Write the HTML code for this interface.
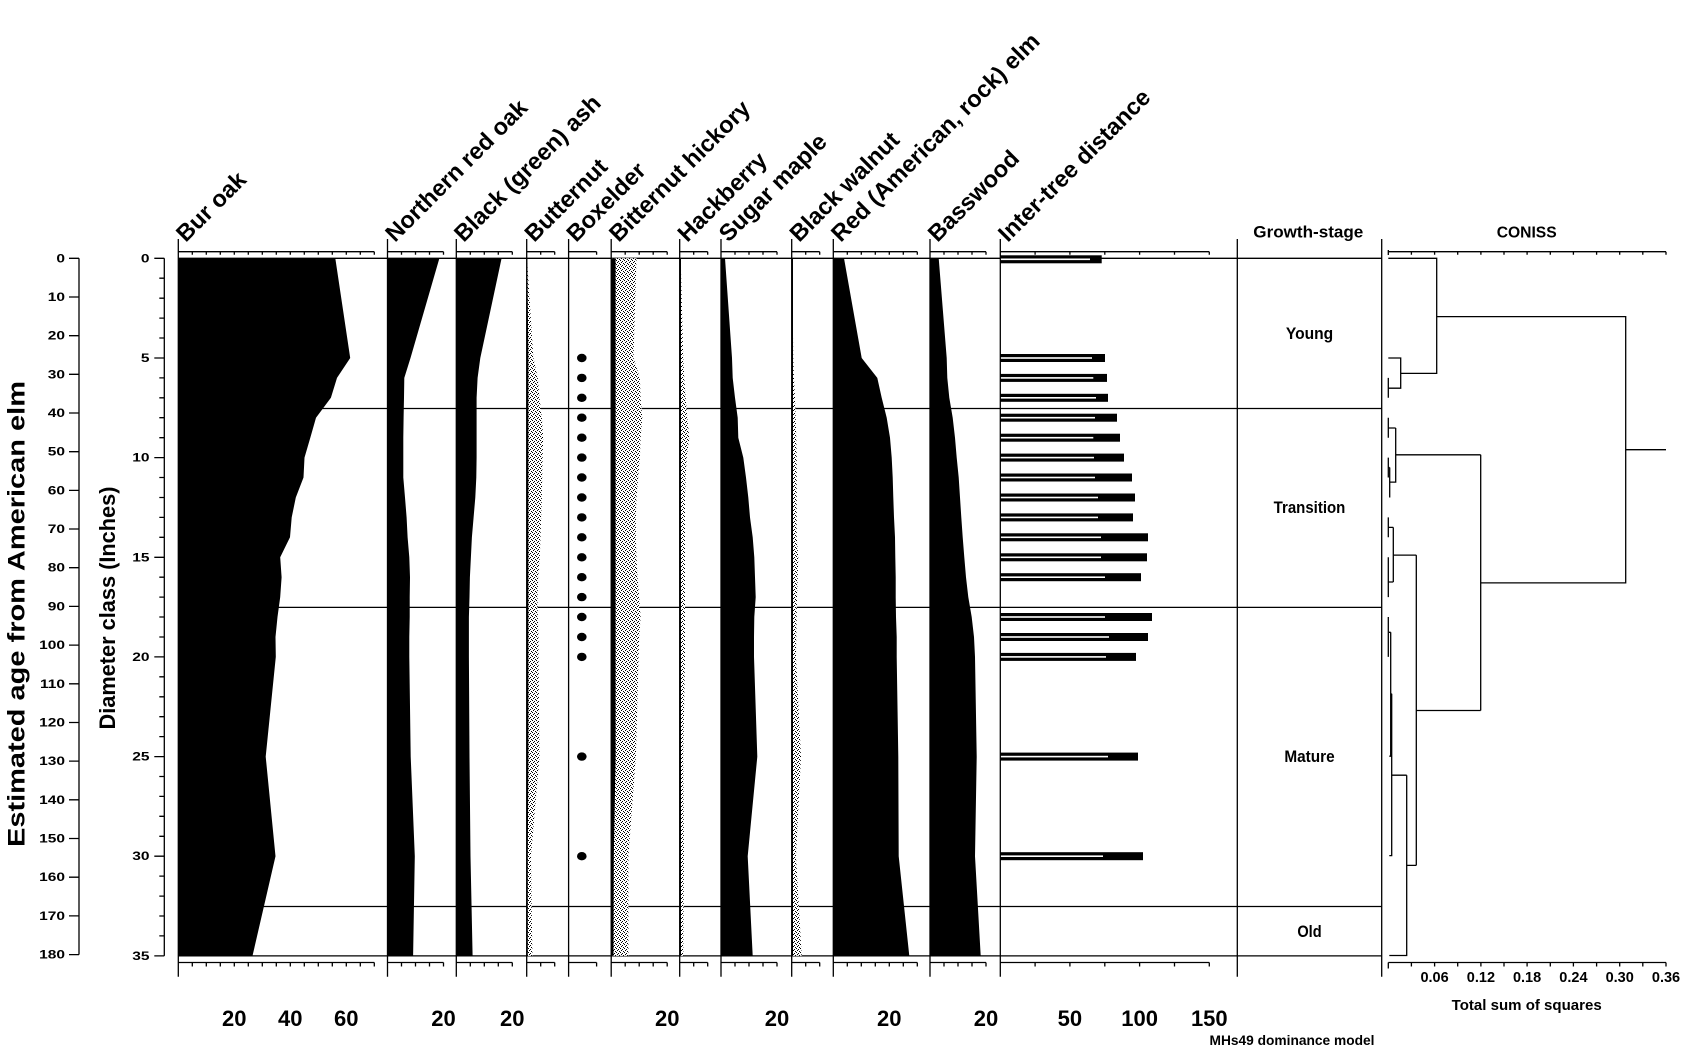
<!DOCTYPE html>
<html><head><meta charset="utf-8"><style>html,body{margin:0;padding:0;background:#fff}svg{display:block}</style></head>
<body>
<svg width="1681" height="1051" viewBox="0 0 1681 1051" xmlns="http://www.w3.org/2000/svg" font-family="'Liberation Sans', Arial, sans-serif">
<defs>
<pattern id="dots" width="4" height="4" patternUnits="userSpaceOnUse"><rect width="4" height="4" fill="#fff"/><rect x="0" y="0" width="1" height="1" fill="#000"/><rect x="2" y="1" width="1" height="1" fill="#000"/><rect x="1" y="2" width="1" height="1" fill="#000"/><rect x="3" y="3" width="1" height="1" fill="#000"/></pattern>
</defs>
<rect width="1681" height="1051" fill="#fff"/>

<g stroke="#000" stroke-width="1.3" fill="none">
<path d="M178.3 258.3H1381.7M178.3 408.5H1381.7M178.3 607.4H1381.7M178.3 906.5H1381.7M178.3 955.9H1381.7"/>
</g>

<g stroke="none">
<polygon fill="#000" points="178.3,258.3 335.3,258.3 350.2,358 337,377.9 330.9,397.8 316,417.7 310.3,437.7 304.5,457.6 303.5,477.5 295.8,497.5 291.7,517.4 290,537.3 280.2,557.3 281.6,577.2 280.2,597.1 277.5,617 275.5,637 275.8,656.9 265.7,756.6 275.5,856.2 252.5,955.9 178.3,955.9"/>
<polygon fill="#000" points="387.5,258.3 439.4,258.3 410.5,358 404.3,377.9 404,397.8 403.6,417.7 403.3,437.7 403.3,457.6 403.3,477.5 405,497.5 406.6,517.4 407.6,537.3 409.3,557.3 410,577.2 409.7,597.1 409.7,617 409.3,637 409.3,656.9 410.7,756.6 414.8,856.2 413.1,955.9 387.5,955.9"/>
<polygon fill="#000" points="456.3,258.3 501.6,258.3 480.3,358 477.6,377.9 476.6,397.8 476.6,417.7 476.6,437.7 476.6,457.6 476.3,477.5 475.3,497.5 473.6,517.4 471.9,537.3 470.9,557.3 469.9,577.2 469.5,597.1 468.9,617 468.9,637 468.9,656.9 469.5,756.6 470.5,856.2 472.6,955.9 456.3,955.9"/>
<polygon fill="url(#dots)" points="526.7,258.3 527,258.3 533.4,358 537.8,377.9 539.5,397.8 541.9,417.7 543.2,437.7 542.6,457.6 542.2,477.5 541.9,497.5 541.2,517.4 540.5,537.3 539.8,557.3 538.2,577.2 537.5,597.1 537.8,617 538.5,637 538.5,656.9 539.5,756.6 531,856.2 532.4,955.9 526.7,955.9"/>
<polygon fill="#000" points="526.7,258.3 527.3,258.3 528.4,358 528.4,756.6 527.8,856.2 527.8,955.9 526.7,955.9"/>
<polygon fill="url(#dots)" points="611.2,258.3 636.5,258.3 633.5,358 639.9,377.9 640.6,397.8 642.3,417.7 640.6,437.7 639.9,457.6 638.2,477.5 636.5,497.5 635.9,517.4 635.9,537.3 636.5,557.3 637.5,577.2 639.2,597.1 640.6,617 639.2,637 638.6,656.9 635.9,756.6 628.4,856.2 628.4,955.9 611.2,955.9"/>
<polygon fill="#000" points="611.2,258.3 615.6,258.3 615.6,756.6 613.8,856.2 613.5,955.9 611.2,955.9"/>
<polygon fill="url(#dots)" points="679.7,258.3 680.7,258.3 683.3,358 684.3,377.9 685.7,397.8 687.3,417.7 689.3,437.7 686.7,457.6 685.7,477.5 685,497.5 685,656.9 683.3,756.6 684,856.2 683.3,955.9 679.7,955.9"/>
<rect x="679.7" y="258.3" width="1.3" height="697.6" fill="#000"/>
<polygon fill="#000" points="721,258.3 725,258.3 732,358 732.7,377.9 735,397.8 737.7,417.7 738.3,437.7 743.3,457.6 746,477.5 748.3,497.5 750,517.4 752.7,537.3 754.3,557.3 755,577.2 755.7,597.1 754.3,617 754,637 754,656.9 757.3,756.6 747.7,856.2 752.7,955.9 721,955.9"/>
<polygon fill="url(#dots)" points="791.7,258.3 792,258.3 793.3,358 794,377.9 795,397.8 795.7,417.7 796.3,437.7 796.7,457.6 796.7,537.3 798.3,557.3 797.7,577.2 797,597.1 796.7,617 796.3,637 796,656.9 801,756.6 796,856.2 801.7,955.9 791.7,955.9"/>
<rect x="791.7" y="258.3" width="1.3" height="697.6" fill="#000"/>
<polygon fill="#000" points="833.3,258.3 844,258.3 861.7,358 877.3,377.9 881.7,397.8 886.7,417.7 890,437.7 891.7,457.6 892.7,477.5 893.3,497.5 894,517.4 895,537.3 895.3,557.3 895.7,577.2 895.7,597.1 896,617 896.7,637 896.7,656.9 898.3,756.6 898.7,856.2 909.3,955.9 833.3,955.9"/>
<polygon fill="#000" points="930,258.3 938.7,258.3 946.7,358 947.3,377.9 949.3,397.8 952.7,417.7 955,437.7 956.7,457.6 958.7,477.5 960,497.5 961.3,517.4 962.7,537.3 964.3,557.3 966,577.2 968.3,597.1 971.7,617 974,637 975,656.9 976.7,756.6 975,856.2 980.7,955.9 930,955.9"/>
</g>

<g fill="#000">
<ellipse cx="581.8" cy="358" rx="4.8" ry="4.2"/><ellipse cx="581.8" cy="377.9" rx="4.8" ry="4.2"/><ellipse cx="581.8" cy="397.8" rx="4.8" ry="4.2"/><ellipse cx="581.8" cy="417.7" rx="4.8" ry="4.2"/><ellipse cx="581.8" cy="437.7" rx="4.8" ry="4.2"/><ellipse cx="581.8" cy="457.6" rx="4.8" ry="4.2"/><ellipse cx="581.8" cy="477.5" rx="4.8" ry="4.2"/><ellipse cx="581.8" cy="497.5" rx="4.8" ry="4.2"/><ellipse cx="581.8" cy="517.4" rx="4.8" ry="4.2"/><ellipse cx="581.8" cy="537.3" rx="4.8" ry="4.2"/><ellipse cx="581.8" cy="557.3" rx="4.8" ry="4.2"/><ellipse cx="581.8" cy="577.2" rx="4.8" ry="4.2"/><ellipse cx="581.8" cy="597.1" rx="4.8" ry="4.2"/><ellipse cx="581.8" cy="617" rx="4.8" ry="4.2"/><ellipse cx="581.8" cy="637" rx="4.8" ry="4.2"/><ellipse cx="581.8" cy="656.9" rx="4.8" ry="4.2"/><ellipse cx="581.8" cy="756.6" rx="4.8" ry="4.2"/><ellipse cx="581.8" cy="856.2" rx="4.8" ry="4.2"/>
</g>

<g>
<rect x="1000.3" y="255.3" width="101.4" height="8" fill="#000"/><rect x="1000.3" y="258.5" width="89.7" height="1.6" fill="#fff"/>
<rect x="1000.3" y="354" width="104.7" height="8" fill="#000"/><rect x="1000.3" y="357.2" width="91.7" height="1.6" fill="#fff"/>
<rect x="1000.3" y="373.9" width="106.7" height="8" fill="#000"/><rect x="1000.3" y="377.1" width="93" height="1.6" fill="#fff"/>
<rect x="1000.3" y="393.8" width="107.7" height="8" fill="#000"/><rect x="1000.3" y="397" width="95.7" height="1.6" fill="#fff"/>
<rect x="1000.3" y="413.7" width="116.7" height="8" fill="#000"/><rect x="1000.3" y="416.9" width="94.7" height="1.6" fill="#fff"/>
<rect x="1000.3" y="433.7" width="119.7" height="8" fill="#000"/><rect x="1000.3" y="436.9" width="93" height="1.6" fill="#fff"/>
<rect x="1000.3" y="453.6" width="123.7" height="8" fill="#000"/><rect x="1000.3" y="456.8" width="93.7" height="1.6" fill="#fff"/>
<rect x="1000.3" y="473.5" width="131.7" height="8" fill="#000"/><rect x="1000.3" y="476.7" width="94.7" height="1.6" fill="#fff"/>
<rect x="1000.3" y="493.5" width="134.7" height="8" fill="#000"/><rect x="1000.3" y="496.7" width="97.7" height="1.6" fill="#fff"/>
<rect x="1000.3" y="513.4" width="132.7" height="8" fill="#000"/><rect x="1000.3" y="516.6" width="97.7" height="1.6" fill="#fff"/>
<rect x="1000.3" y="533.3" width="147.7" height="8" fill="#000"/><rect x="1000.3" y="536.5" width="100.7" height="1.6" fill="#fff"/>
<rect x="1000.3" y="553.3" width="146.7" height="8" fill="#000"/><rect x="1000.3" y="556.5" width="100.7" height="1.6" fill="#fff"/>
<rect x="1000.3" y="573.2" width="140.7" height="8" fill="#000"/><rect x="1000.3" y="576.4" width="104.7" height="1.6" fill="#fff"/>
<rect x="1000.3" y="613" width="151.7" height="8" fill="#000"/><rect x="1000.3" y="616.2" width="104.7" height="1.6" fill="#fff"/>
<rect x="1000.3" y="633" width="147.7" height="8" fill="#000"/><rect x="1000.3" y="636.2" width="108.7" height="1.6" fill="#fff"/>
<rect x="1000.3" y="652.9" width="135.7" height="8" fill="#000"/><rect x="1000.3" y="656.1" width="105.7" height="1.6" fill="#fff"/>
<rect x="1000.3" y="752.6" width="137.7" height="8" fill="#000"/><rect x="1000.3" y="755.8" width="107.7" height="1.6" fill="#fff"/>
<rect x="1000.3" y="852.2" width="142.7" height="8" fill="#000"/><rect x="1000.3" y="855.4" width="102.7" height="1.6" fill="#fff"/>
</g>

<g stroke="#000" stroke-width="1.3" fill="none">
<path d="M178.3 239V976.7M387.5 239V976.7M456.3 239V976.7M526.7 239V976.7M568.6 239V976.7M611.2 239V976.7M679.7 239V976.7M721 239V976.7M791.7 239V976.7M833.3 239V976.7M930 239V976.7M1000.3 239V976.7M1237.3 239V976.7M1381.7 239V976.7"/>
<path d="M178.3 251.7H374.3M387.5 251.7H443.5M456.3 251.7H512.3M526.7 251.7H554.7M568.6 251.7H596.6M611.2 251.7H667.2M679.7 251.7H707.7M721 251.7H777M791.7 251.7H819.7M833.3 251.7H917.3M930 251.7H986M1000.3 251.7H1209.3M1388.3 251.7H1666"/>
<path d="M178.3 962.5H374.3M387.5 962.5H443.5M456.3 962.5H512.3M526.7 962.5H554.7M568.6 962.5H596.6M611.2 962.5H667.2M679.7 962.5H707.7M721 962.5H777M791.7 962.5H819.7M833.3 962.5H917.3M930 962.5H986M1000.3 962.5H1209.3M1388.3 962.5H1666"/>
<path d="M192.3 251.7v3M206.3 251.7v3M220.3 251.7v3M234.3 251.7v3M248.3 251.7v3M262.3 251.7v3M276.3 251.7v3M290.3 251.7v3M304.3 251.7v3M318.3 251.7v3M332.3 251.7v3M346.3 251.7v3M360.3 251.7v3M374.3 251.7v3
M401.5 251.7v3M415.5 251.7v3M429.5 251.7v3M443.5 251.7v3M470.3 251.7v3M484.3 251.7v3M498.3 251.7v3M512.3 251.7v3
M540.7 251.7v3M554.7 251.7v3M596.6 251.7v3M625.2 251.7v3M639.2 251.7v3M653.2 251.7v3M667.2 251.7v3
M693.7 251.7v3M707.7 251.7v3M735 251.7v3M749 251.7v3M763 251.7v3M777 251.7v3M805.7 251.7v3M819.7 251.7v3
M847.3 251.7v3M861.3 251.7v3M875.3 251.7v3M889.3 251.7v3M903.3 251.7v3M917.3 251.7v3M944 251.7v3M958 251.7v3M972 251.7v3M986 251.7v3
M1035.1 251.7v3M1069.9 251.7v3M1104.8 251.7v3M1139.6 251.7v3M1174.5 251.7v3M1209.3 251.7v3
M1388.3 250v5M1411.4 251.7v3M1434.6 251.7v3M1457.7 251.7v3M1480.9 251.7v3M1504 251.7v3M1527.1 251.7v3M1550.3 251.7v3M1573.4 251.7v3M1596.6 251.7v3M1619.7 251.7v3M1642.8 251.7v3M1666 251.7v3"/>
<path d="M192.3 962.5v4M206.3 962.5v4M220.3 962.5v4M234.3 962.5v4M248.3 962.5v4M262.3 962.5v4M276.3 962.5v4M290.3 962.5v4M304.3 962.5v4M318.3 962.5v4M332.3 962.5v4M346.3 962.5v4M360.3 962.5v4M374.3 962.5v4
M401.5 962.5v4M415.5 962.5v4M429.5 962.5v4M443.5 962.5v4M470.3 962.5v4M484.3 962.5v4M498.3 962.5v4M512.3 962.5v4
M540.7 962.5v4M554.7 962.5v4M596.6 962.5v4M625.2 962.5v4M639.2 962.5v4M653.2 962.5v4M667.2 962.5v4
M693.7 962.5v4M707.7 962.5v4M735 962.5v4M749 962.5v4M763 962.5v4M777 962.5v4M805.7 962.5v4M819.7 962.5v4
M847.3 962.5v4M861.3 962.5v4M875.3 962.5v4M889.3 962.5v4M903.3 962.5v4M917.3 962.5v4M944 962.5v4M958 962.5v4M972 962.5v4M986 962.5v4
M1035.1 962.5v4M1069.9 962.5v4M1104.8 962.5v4M1139.6 962.5v4M1174.5 962.5v4M1209.3 962.5v4
M1388.3 962.5v6M1411.4 962.5v4M1434.6 962.5v4M1457.7 962.5v4M1480.9 962.5v4M1504 962.5v4M1527.1 962.5v4M1550.3 962.5v4M1573.4 962.5v4M1596.6 962.5v4M1619.7 962.5v4M1642.8 962.5v4M1666 962.5v4"/>
<path d="M79 258.3V954.6M69 258.3H79M69 297H79M69 335.7H79M69 374.3H79M69 413H79M69 451.7H79M69 490.4H79M69 529H79M69 567.7H79M69 606.4H79M69 645.1H79M69 683.8H79M69 722.5H79M69 761.1H79M69 799.8H79M69 838.5H79M69 877.2H79M69 915.9H79M69 954.6H79"/>
<path d="M164.3 258.3V955.9M154.3 258.3H164.3M154.3 358H164.3M154.3 457.6H164.3M154.3 557.3H164.3M154.3 656.9H164.3M154.3 756.6H164.3M154.3 856.2H164.3M154.3 955.9H164.3
M159.3 278.2H164.3M159.3 298.2H164.3M159.3 318.1H164.3M159.3 338H164.3M159.3 377.9H164.3M159.3 397.8H164.3M159.3 417.7H164.3M159.3 437.7H164.3M159.3 477.5H164.3M159.3 497.5H164.3M159.3 517.4H164.3M159.3 537.3H164.3M159.3 577.2H164.3M159.3 597.1H164.3M159.3 617H164.3M159.3 637H164.3M159.3 676.8H164.3M159.3 696.8H164.3M159.3 716.7H164.3M159.3 736.6H164.3M159.3 776.5H164.3M159.3 796.4H164.3M159.3 816.3H164.3M159.3 836.3H164.3M159.3 876.1H164.3M159.3 896.1H164.3M159.3 916H164.3M159.3 935.9H164.3"/>
<path d="M1388.3 258.3H1436.7V373.4H1400.7M1388.3 358H1400.7V388.2H1388.3M1388.3 377.9V397.8
M1436.7 316.6H1625.7V582.9H1480.7M1625.7 449.7H1666
M1480.7 454.8V710.5M1395.7 454.8H1480.7M1395.7 428V482.1H1389.7M1388.3 428H1395.7M1388.3 417.7V437.7
M1388.3 457.6V477.5M1388.3 467.5H1389.7M1389.7 467.5V497.5
M1393.3 555.1H1416.3M1393.3 527.4V582M1388.3 527.4H1393.3M1388.3 517.4V537.3M1388.3 582H1393.3M1388.3 557.3V597.1
M1416.3 555.1V865.4M1416.3 710.5H1480.7M1406.7 865.4H1416.3M1406.7 775.2V955.5H1389.3M1391.7 775.2H1406.7
M1391.7 693.8V855.6H1389.3M1389.3 756.2H1391.7M1390.7 632.3V756.2M1389 632.3H1390.7M1388.3 617V656.9M1390.7 693.8H1391.7"/>
</g>

<g font-weight="bold" font-size="11.5" fill="#000" text-anchor="end">
<g transform="translate(65,262.3) scale(1.35,1)"><text>0</text></g>
<g transform="translate(65,301) scale(1.35,1)"><text>10</text></g>
<g transform="translate(65,339.7) scale(1.35,1)"><text>20</text></g>
<g transform="translate(65,378.3) scale(1.35,1)"><text>30</text></g>
<g transform="translate(65,417) scale(1.35,1)"><text>40</text></g>
<g transform="translate(65,455.7) scale(1.35,1)"><text>50</text></g>
<g transform="translate(65,494.4) scale(1.35,1)"><text>60</text></g>
<g transform="translate(65,533) scale(1.35,1)"><text>70</text></g>
<g transform="translate(65,571.7) scale(1.35,1)"><text>80</text></g>
<g transform="translate(65,610.4) scale(1.35,1)"><text>90</text></g>
<g transform="translate(65,649.1) scale(1.35,1)"><text>100</text></g>
<g transform="translate(65,687.8) scale(1.35,1)"><text>110</text></g>
<g transform="translate(65,726.5) scale(1.35,1)"><text>120</text></g>
<g transform="translate(65,765.1) scale(1.35,1)"><text>130</text></g>
<g transform="translate(65,803.8) scale(1.35,1)"><text>140</text></g>
<g transform="translate(65,842.5) scale(1.35,1)"><text>150</text></g>
<g transform="translate(65,881.2) scale(1.35,1)"><text>160</text></g>
<g transform="translate(65,919.9) scale(1.35,1)"><text>170</text></g>
<g transform="translate(65,958.6) scale(1.35,1)"><text>180</text></g>
<g transform="translate(149.5,262.3) scale(1.35,1)"><text>0</text></g>
<g transform="translate(149.5,362) scale(1.35,1)"><text>5</text></g>
<g transform="translate(149.5,461.6) scale(1.35,1)"><text>10</text></g>
<g transform="translate(149.5,561.3) scale(1.35,1)"><text>15</text></g>
<g transform="translate(149.5,660.9) scale(1.35,1)"><text>20</text></g>
<g transform="translate(149.5,760.6) scale(1.35,1)"><text>25</text></g>
<g transform="translate(149.5,860.2) scale(1.35,1)"><text>30</text></g>
<g transform="translate(149.5,959.9) scale(1.35,1)"><text>35</text></g>
</g>

<g font-weight="bold" font-size="22" fill="#000" text-anchor="middle">
<text x="234.3" y="1026">20</text><text x="290.3" y="1026">40</text><text x="346.3" y="1026">60</text>
<text x="443.5" y="1026">20</text><text x="512.3" y="1026">20</text><text x="667.2" y="1026">20</text>
<text x="777" y="1026">20</text><text x="889.3" y="1026">20</text><text x="986" y="1026">20</text>
<text x="1069.9" y="1026">50</text><text x="1139.6" y="1026">100</text><text x="1209.3" y="1026">150</text>
</g>
<g font-weight="bold" font-size="14.5" fill="#000" text-anchor="middle">
<text x="1434.6" y="982">0.06</text><text x="1480.9" y="982">0.12</text><text x="1527.1" y="982">0.18</text>
<text x="1573.4" y="982">0.24</text><text x="1619.7" y="982">0.30</text><text x="1666" y="982">0.36</text>
<text x="1526.7" y="1010" textLength="150" lengthAdjust="spacingAndGlyphs">Total sum of squares</text>
<text x="1292" y="1045" font-size="13.6" textLength="165" lengthAdjust="spacingAndGlyphs">MHs49 dominance model</text>
</g>

<g font-weight="bold" font-size="17" fill="#000" text-anchor="middle">
<text x="1308.3" y="237.7" textLength="110" lengthAdjust="spacingAndGlyphs">Growth-stage</text>
<text x="1526.7" y="237.7" font-size="16" textLength="60" lengthAdjust="spacingAndGlyphs">CONISS</text>
<text x="1309.5" y="339" textLength="47.3" lengthAdjust="spacingAndGlyphs">Young</text>
<text x="1309.5" y="513" textLength="71.7" lengthAdjust="spacingAndGlyphs">Transition</text>
<text x="1309.5" y="762" textLength="50.3" lengthAdjust="spacingAndGlyphs">Mature</text>
<text x="1309.5" y="937" textLength="24.3" lengthAdjust="spacingAndGlyphs">Old</text>
</g>

<g font-weight="bold" font-size="23.5" fill="#000">
<text transform="translate(185.8,243) rotate(-45)">Bur oak</text>
<text transform="translate(395,243) rotate(-45)">Northern red oak</text>
<text transform="translate(463.8,243) rotate(-45)">Black (green) ash</text>
<text transform="translate(534.2,243) rotate(-45)">Butternut</text>
<text transform="translate(576.1,243) rotate(-45)">Boxelder</text>
<text transform="translate(618.7,243) rotate(-45)">Bitternut hickory</text>
<text transform="translate(687.2,243) rotate(-45)">Hackberry</text>
<text transform="translate(728.5,243) rotate(-45)">Sugar maple</text>
<text transform="translate(799.2,243) rotate(-45)">Black walnut</text>
<text transform="translate(840.8,243) rotate(-45)">Red (American, rock) elm</text>
<text transform="translate(937.5,243) rotate(-45)">Basswood</text>
<text transform="translate(1007.8,243) rotate(-45)">Inter-tree distance</text>
</g>

<g font-weight="bold" fill="#000" text-anchor="middle">
<text transform="translate(24.5,614) rotate(-90)" font-size="24" textLength="466" lengthAdjust="spacingAndGlyphs">Estimated age from American elm</text>
<text transform="translate(115,608) rotate(-90)" font-size="21.75" textLength="243" lengthAdjust="spacingAndGlyphs">Diameter class (Inches)</text>
</g>
</svg>
</body></html>
